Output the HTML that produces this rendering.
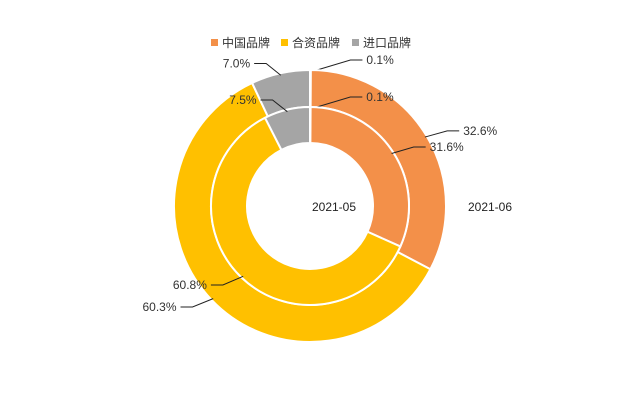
<!DOCTYPE html>
<html><head><meta charset="utf-8"><style>
body{margin:0;background:#fff;}
svg{display:block;font-family:"Liberation Sans","Noto Sans CJK SC",sans-serif;}
</style></head><body>
<svg id="c" width="620" height="413" viewBox="0 0 620 413">
<g>
<g><rect x="211" y="39" width="7" height="7" fill="#F39049"/><text x="222" y="47" font-size="12" fill="#333">中国品牌</text></g>
<g><rect x="281" y="39" width="7" height="7" fill="#FFC000"/><text x="292" y="47" font-size="12" fill="#333">合资品牌</text></g>
<g><rect x="352" y="39" width="7" height="7" fill="#A5A5A5"/><text x="363" y="47" font-size="12" fill="#333">进口品牌</text></g>
</g>
<text x="334" y="211" text-anchor="middle" font-size="12" fill="#222">2021-05</text>
<text x="490" y="211" text-anchor="middle" font-size="12" fill="#222">2021-06</text>
</svg>
<script>
const categories=["其他","中国品牌","合资品牌","进口品牌"];
const colors=["#F39049","#F39049","#FFC000","#A5A5A5"];
const inner2105=[0.1,31.6,60.8,7.5];
const outer2106=[0.1,32.6,60.3,7.0];
const svg=document.getElementById('c');
const NS="http://www.w3.org/2000/svg";
const cx=310,cy=206;
function pt(r,a){return [cx+r*Math.sin(a),cy-r*Math.cos(a)];}
function ring(vals,r0,r1,name){
  const tot=vals.reduce((a,b)=>a+b,0);let a=0;
  const g=document.createElementNS(NS,'g');
  
  
  svg.appendChild(g);
  vals.forEach((v,i)=>{
    const a0=a,a1=a+v/tot*2*Math.PI;a=a1;
    const lg=(a1-a0)>Math.PI?1:0;
    const p0=pt(r1,a0),p1=pt(r1,a1),p2=pt(r0,a1),p3=pt(r0,a0);
    const p=document.createElementNS(NS,'path');
    p.setAttribute('d',`M${p0}A${r1},${r1} 0 ${lg} 1 ${p1}L${p2}A${r0},${r0} 0 ${lg} 0 ${p3}Z`);
    p.setAttribute('fill',colors[i]);p.setAttribute('stroke','#fff');p.setAttribute('stroke-width','2');
    
    
    g.appendChild(p);
    // label
    const m=(a0+a1)/2;
    const e=pt(r1-2,m);const o=pt(r1+10,m);
    const right=Math.sin(m)>=0||v<1;
    const dx=right?1:-1;
    const hx=o[0]+dx*(v<1?60:12);
    const l=document.createElementNS(NS,'polyline');
    l.setAttribute('points',`${e} ${hx},${o[1]-(v<1?12:0)} ${hx+dx*12},${o[1]-(v<1?12:0)}`);
    if(v<1){l.setAttribute('points',`${e[0]},${e[1]} ${e[0]+40},${e[1]-12} ${e[0]+52},${e[1]-12}`);}
    l.setAttribute('fill','none');l.setAttribute('stroke','#222');l.setAttribute('stroke-width','1');
    
    
    g.appendChild(l);
    const t=document.createElementNS(NS,'text');
    let tx,ty;
    if(v<1){tx=e[0]+56;ty=e[1]-8;}else{tx=hx+dx*16;ty=o[1]+4;}
    t.setAttribute('x',tx);t.setAttribute('y',ty);
    t.setAttribute('text-anchor',(v<1||right)?'start':'end');
    t.setAttribute('font-size','12');t.setAttribute('fill','#333');
    t.textContent=v.toFixed(1)+'%';
    
    
    g.appendChild(t);
  });
}
ring(outer2106,99,136,'outer-ring');
ring(inner2105,63,99,'inner-ring');
</script>
</body></html>
